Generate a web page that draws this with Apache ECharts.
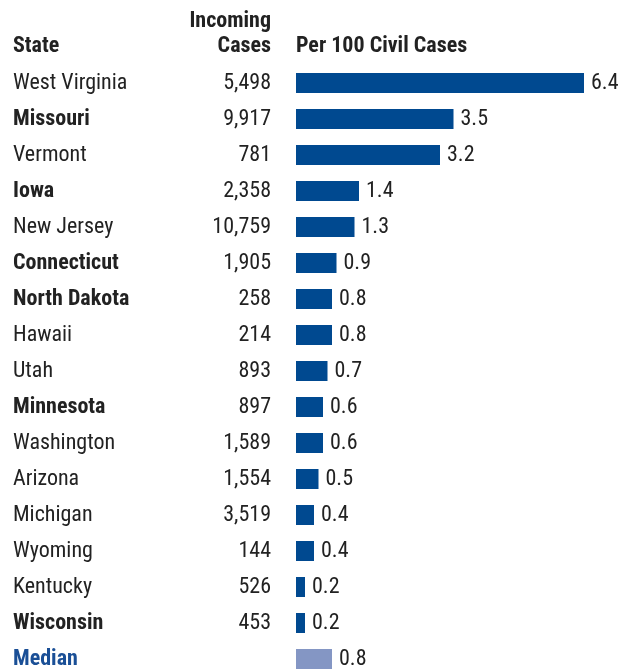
<!DOCTYPE html>
<html><head><meta charset="utf-8">
<script src="https://cdn.jsdelivr.net/npm/echarts@6/dist/echarts.min.js"></script>
<style>html,body{margin:0;padding:0;background:#fff}#c{width:629px;height:669px}</style>
</head><body><div id="c"></div>
<script>
const states = ["West Virginia","Missouri","Vermont","Iowa","New Jersey","Connecticut","North Dakota","Hawaii","Utah","Minnesota","Washington","Arizona","Michigan","Wyoming","Kentucky","Wisconsin","Median"];
const incoming = ["5,498","9,917","781","2,358","10,759","1,905","258","214","893","897","1,589","1,554","3,519","144","526","453",""];
const per100 = [6.4,3.5,3.2,1.4,1.3,0.9,0.8,0.8,0.7,0.6,0.6,0.5,0.4,0.4,0.2,0.2,0.8];
const boldStates = ["Missouri","Iowa","Connecticut","North Dakota","Minnesota","Wisconsin"];

const FONT = '"Liberation Sans Narrow","Arial Narrow","Roboto Condensed",sans-serif';
const chart = echarts.init(document.getElementById('c'));
chart.setOption({
  animation:false,
  textStyle:{fontFamily:FONT},
  grid:{left:296,top:65,width:315,height:612,outerBoundsMode:'none'},
  xAxis:{type:'value',min:0,max:7,show:false},
  yAxis:[{
    type:'category',data:states,inverse:true,
    axisLine:{show:false},axisTick:{show:false},
    axisLabel:{align:'left',margin:283,fontFamily:FONT,fontSize:22,color:'#222',
      formatter:v=> v==='Median'?'{m|'+v+'}':(boldStates.includes(v)?'{b|'+v+'}':v),
      rich:{b:{fontWeight:'bold',fontSize:22,fontFamily:FONT,color:'#222'},
            m:{fontWeight:'bold',fontSize:22,fontFamily:FONT,color:'#1a4f96'}}}
  },{
    type:'category',data:states,inverse:true,position:'left',offset:0,
    axisLine:{show:false},axisTick:{show:false},
    axisLabel:{align:'right',margin:25,fontFamily:FONT,fontSize:22,color:'#222',
      formatter:(v,i)=>incoming[i]}
  }],
  series:[{
    type:'bar',yAxisIndex:0,barWidth:20,
    data:per100.map((v,i)=>({value:v,itemStyle:{color:states[i]==='Median'?'#8496c4':'#004990'}})),
    label:{show:true,position:'right',distance:7,fontFamily:FONT,fontSize:22,color:'#222',
      formatter:p=>p.value.toFixed(1)}
  }],
  graphic:[
    {type:'text',left:13,top:35,style:{text:'State',font:'bold 22px '+FONT,fill:'#222'}},
    {type:'text',right:358,top:10,style:{text:'Incoming',font:'bold 22px '+FONT,fill:'#222'}},
    {type:'text',right:358,top:35,style:{text:'Cases',font:'bold 22px '+FONT,fill:'#222'}},
    {type:'text',left:296,top:35,style:{text:'Per 100 Civil Cases',font:'bold 22px '+FONT,fill:'#222'}}
  ]
});
</script></body></html>
